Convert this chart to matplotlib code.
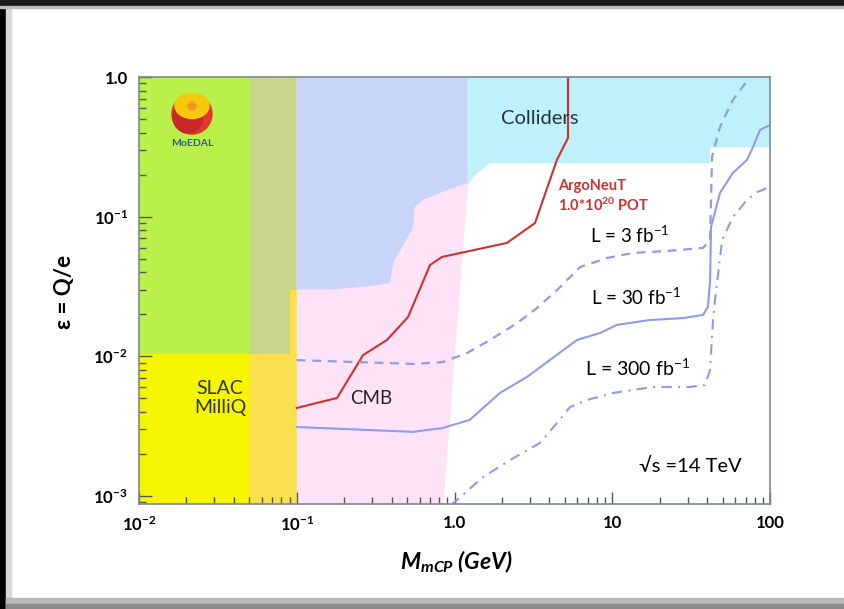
import matplotlib
matplotlib.use('Agg')
import matplotlib.pyplot as plt
from matplotlib.patches import Ellipse, Rectangle
from matplotlib.ticker import FixedLocator, NullFormatter
import numpy as np

plt.rcParams['font.family'] = ['Lato', 'DejaVu Sans']
plt.rcParams['mathtext.default'] = 'regular'

# %% data
# excluded regions, (mass GeV, epsilon) polygon corners
moedal_x = [0.01, 0.05, 0.05, 0.01]
moedal_y = [0.0104, 0.0104, 1.0, 1.0]
overlap_x = [0.05, 0.1, 0.1, 0.05]
overlap_y = [0.0104, 0.0104, 1.0, 1.0]
slac_x = [0.01, 0.05, 0.05, 0.01]
slac_y = [0.0008, 0.0008, 0.0104, 0.0104]
slac_ov_x = [0.05, 0.1, 0.1, 0.0906, 0.0906, 0.05]
slac_ov_y = [0.0008, 0.0008, 0.030, 0.030, 0.0104, 0.0104]
cmb_x = [0.1, 0.845, 1.22, 1.22, 0.1]
cmb_y = [0.0008, 0.0008, 0.17, 1.0, 1.0]
lav_x = [0.1, 1.2, 1.2, 0.90, 0.63, 0.56, 0.546, 0.47, 0.41, 0.39, 0.291, 0.163, 0.1]
lav_y = [1.0, 1.0, 0.174, 0.155, 0.132, 0.117, 0.083, 0.062, 0.0474, 0.0335, 0.0319, 0.030, 0.030]
coll_x = [1.2, 100, 100, 41.7, 41.7, 1.68, 1.39, 1.2]
coll_y = [1.0, 1.0, 0.315, 0.315, 0.242, 0.242, 0.206, 0.169]

# ArgoNeuT 1e20 POT
argo_m = [0.1, 0.180, 0.263, 0.373, 0.507, 0.700, 0.834, 2.15, 3.24, 3.86, 4.46, 5.24, 5.24]
argo_e = [0.00427, 0.00504, 0.0102, 0.0131, 0.0191, 0.0451, 0.0515, 0.0649, 0.0901, 0.160, 0.255, 0.366, 1.0]

# L = 3 fb-1 (dashed)
l3_m = [0.1, 0.546, 0.84, 1.2, 1.68, 2.49, 3.2, 4.4, 6.25, 9.27, 13.5, 22.2, 37.6, 41.7, 42.9, 48.2, 58.2, 74.6]
l3_e = [0.0094, 0.00883, 0.0091, 0.01057, 0.0131, 0.0173, 0.0214, 0.0293, 0.0436, 0.0506, 0.055, 0.0568, 0.0597, 0.068, 0.267, 0.439, 0.685, 1.0]

# L = 30 fb-1 (solid)
l30_m = [0.1, 0.546, 0.84, 1.25, 1.94, 2.88, 4.03, 5.98, 8.36, 10.7, 17.3, 28.1, 37.6, 40.4, 41.7,
         42.3, 48.2, 58.2, 71.5, 78.0, 86.4, 100]
l30_e = [0.00312, 0.00288, 0.00307, 0.00351, 0.00547, 0.00712, 0.00942, 0.0131, 0.0147, 0.0168, 0.0182,
         0.0188, 0.0198, 0.0226, 0.0352, 0.0844, 0.148, 0.206, 0.255, 0.315, 0.418, 0.453]

# L = 300 fb-1 (dash-dot)
l300_m = [0.95, 1.52, 2.25, 3.48, 4.46, 5.40, 6.92, 10.1, 18.1, 31.1, 38.7, 41.7, 43.5, 44.8,
          49.7, 58.2, 71.5, 82.8, 100]
l300_e = [0.00086, 0.00137, 0.00181, 0.00240, 0.00333, 0.00434, 0.00487, 0.00547, 0.00604, 0.00604,
          0.00624, 0.0080, 0.0180, 0.0253, 0.068, 0.0995, 0.132, 0.150, 0.163]

xticks = [0.01, 0.1, 1.0, 10, 100]
xticklabels = ['10$^{-2}$', '10$^{-1}$', '1.0', '10', '100']
yticks = [0.001, 0.01, 0.1, 1.0]
yticklabels = ['10$^{-3}$', '10$^{-2}$', '10$^{-1}$', '1.0']

# %% figure
W, H = 844, 609
fig = plt.figure(figsize=(W / 100, H / 100), dpi=100)
fig.patch.set_facecolor('white')


def fx(px):
    return px / W


def fy(py):
    return 1 - py / H


# slide frame
fig.patches.append(Rectangle((0, 0), fx(6), 1, transform=fig.transFigure, color='black', zorder=-5))
fig.patches.append(Rectangle((fx(6), 0), fx(5), 1, transform=fig.transFigure, color='#d8d8d8', zorder=-5))
fig.patches.append(Rectangle((0, fy(6)), 1, fy(0) - fy(6), transform=fig.transFigure, color='#1a1a1a', zorder=-5))
fig.patches.append(Rectangle((0, fy(8)), 1, fy(6) - fy(8), transform=fig.transFigure, color='#bdbdbd', zorder=-5))
fig.patches.append(Rectangle((fx(6), 0), 1, fy(598), transform=fig.transFigure, color='#b8b8b8', zorder=-5))
fig.patches.append(Rectangle((fx(6), 0), 1, fy(604), transform=fig.transFigure, color='#8a8a8a', zorder=-5))

ax = fig.add_axes([fx(139), fy(504), fx(770) - fx(139), fy(77) - fy(504)])
ax.set_xscale('log')
ax.set_yscale('log')
ax.set_xlim(0.01, 100)
ax.set_ylim(10 ** -3.057, 1.0)

ax.fill(moedal_x, moedal_y, color='#baf04a', lw=0)
ax.fill(overlap_x, overlap_y, color='#c9d58a', lw=0)
ax.fill(slac_x, slac_y, color='#f5f500', lw=0)
ax.fill(slac_ov_x, slac_ov_y, color='#f9e04c', lw=0)
ax.fill(cmb_x, cmb_y, color='#fde2f8', lw=0)
ax.fill(lav_x, lav_y, color='#c9d4fb', lw=0)
ax.fill(coll_x, coll_y, color='#bff1fb', lw=0)

blue = '#8e9bf0'
ax.plot(argo_m, argo_e, color='#d0312d', lw=1.5)
ax.plot(l3_m, l3_e, color=blue, lw=1.6, dashes=(4, 3))
ax.plot(l30_m, l30_e, color=blue, lw=1.5)
ax.plot(l300_m, l300_e, color=blue, lw=1.5, dashes=(5, 3, 1, 3))

for s in ax.spines.values():
    s.set_color('#7a8a96')
    s.set_linewidth(1.2)

ax.xaxis.set_major_locator(FixedLocator(xticks))
ax.set_xticklabels(xticklabels, fontsize=12, fontweight='bold')
ax.yaxis.set_major_locator(FixedLocator(yticks))
ax.set_yticklabels(yticklabels, fontsize=12, fontweight='bold')
minors = [m * 10.0 ** d for d in range(-4, 3) for m in range(2, 10)]
ax.xaxis.set_minor_locator(FixedLocator(minors))
ax.yaxis.set_minor_locator(FixedLocator(minors))
ax.xaxis.set_minor_formatter(NullFormatter())
ax.yaxis.set_minor_formatter(NullFormatter())
ax.tick_params(which='major', direction='in', length=9, width=1, color='#555555', pad=8)
ax.tick_params(which='minor', direction='in', length=5, width=1, color='#555555')

# axis titles
fig.text(fx(64), fy(292), '\u03b5 = Q/e', rotation=90, ha='center', va='center', fontsize=16, fontweight='bold')
fig.text(fx(456), fy(562), r'M$_{mCP}$ (GeV)', ha='center', va='center', fontsize=16.5,
         fontweight='bold', fontstyle='italic')

# labels inside the plot
fig.text(fx(540), fy(118), 'Colliders', ha='center', va='center', fontsize=14.5, color='#24343c')
fig.text(fx(558), fy(186), 'ArgoNeuT', ha='left', va='center', fontsize=10.5, fontweight='bold', color='#d0312d')
fig.text(fx(558), fy(205), '1.0*10$^{20}$ POT', ha='left', va='center', fontsize=10.5, fontweight='bold',
         color='#d0312d')
fig.text(fx(630), fy(235), 'L = 3 fb$^{-1}$', ha='center', va='center', fontsize=13.5)
fig.text(fx(636), fy(297), 'L = 30 fb$^{-1}$', ha='center', va='center', fontsize=13.5)
fig.text(fx(637), fy(368), 'L = 300 fb$^{-1}$', ha='center', va='center', fontsize=14)
fig.text(fx(690), fy(466), '\u221as =14 TeV', ha='center', va='center', fontsize=14.5)
fig.text(fx(220), fy(398), 'SLAC\nMilliQ', ha='center', va='center', fontsize=14, color='#333333',
         linespacing=1.15)
fig.text(fx(371), fy(398), 'CMB', ha='center', va='center', fontsize=13.5, color='#222222')

# MoEDAL logo
fig.patches.append(Ellipse((fx(192), fy(114)), fx(40), 40 / H, transform=fig.transFigure,
                           color='#e8342a', zorder=3))
fig.patches.append(Ellipse((fx(188), fy(117)), fx(30), 32 / H, transform=fig.transFigure,
                           color='#c9282a', zorder=3))
fig.patches.append(Ellipse((fx(192), fy(106)), fx(34), 25 / H, transform=fig.transFigure,
                           color='#f8c80c', zorder=4))
fig.patches.append(Ellipse((fx(192), fy(106)), fx(8), 8 / H, transform=fig.transFigure,
                           color='#f09a20', zorder=5))
fig.text(fx(192), fy(143), 'MoEDAL', ha='center', va='center', fontsize=7.5, fontweight='bold',
         color='#2e5f8a')

fig.savefig('out.png', dpi=100)
